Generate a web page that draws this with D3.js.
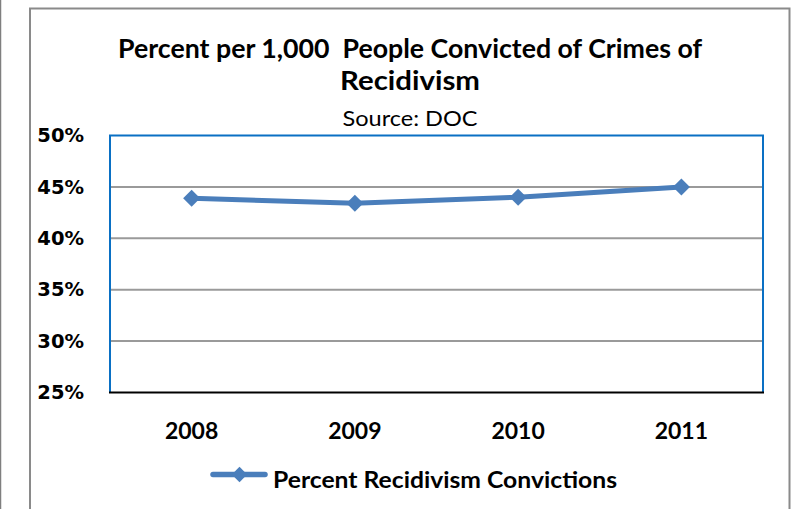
<!DOCTYPE html>
<html>
<head>
<meta charset="utf-8">
<script src="https://cdn.jsdelivr.net/npm/d3@7/dist/d3.min.js"></script>
<style>
  html, body { margin: 0; padding: 0; background: #ffffff; }
  svg { display: block; }
</style>
</head>
<body>
<svg id="chart" width="806" height="509"></svg>
<script>
// Recidivism conviction rate by year (Source: DOC)
const years = ["2008", "2009", "2010", "2011"];
const recidivismRates = [0.439, 0.434, 0.440, 0.450];
const yTickValues = [0.25, 0.30, 0.35, 0.40, 0.45, 0.50];
const titleLines = ["Percent per 1,000  People Convicted of Crimes of", "Recidivism"];
const subtitle = "Source: DOC";
const seriesName = "Percent Recidivism Convictions";

const svg = d3.select("#chart");
const W = 806, H = 509;
const plot = { left: 110, right: 763, top: 135.5, bottom: 392.5 };
const lineColor = "#4A7EBB";
const calibriLike = "Lato, 'Open Sans', sans-serif";

svg.append("rect").attr("width", W).attr("height", H).attr("fill", "#fff");

// Outer page edge and chart frame
svg.append("line").attr("x1", 0.5).attr("x2", 0.5).attr("y1", 0).attr("y2", H)
  .attr("stroke", "#7f7f7f").attr("stroke-width", 1.5);
svg.append("path")
  .attr("d", `M30,${H + 2} L30,8.5 L789.5,8.5 L789.5,${H + 2}`)
  .attr("fill", "none").attr("stroke", "#8a8a8a").attr("stroke-width", 2);

// Titles
const titleX = 410;
svg.append("text").attr("x", titleX).attr("y", 58)
  .attr("text-anchor", "middle").attr("font-family", calibriLike)
  .attr("font-weight", 700).attr("font-size", 26).attr("fill", "#000")
  .attr("textLength", 584).attr("lengthAdjust", "spacingAndGlyphs")
  .style("white-space", "pre")
  .text(titleLines[0]);
svg.append("text").attr("x", titleX).attr("y", 90)
  .attr("text-anchor", "middle").attr("font-family", calibriLike)
  .attr("font-weight", 700).attr("font-size", 26).attr("fill", "#000")
  .attr("textLength", 140).attr("lengthAdjust", "spacingAndGlyphs")
  .text(titleLines[1]);
svg.append("text").attr("x", titleX).attr("y", 126)
  .attr("text-anchor", "middle").attr("font-family", calibriLike)
  .attr("font-weight", 400).attr("font-size", 22).attr("fill", "#000")
  .attr("textLength", 135).attr("lengthAdjust", "spacingAndGlyphs")
  .text(subtitle);

// Scales
const x = d3.scaleBand().domain(years).range([plot.left, plot.right]);
const y = d3.scaleLinear().domain([0.25, 0.50]).range([plot.bottom, plot.top]);
const cx = d => x(d) + x.bandwidth() / 2;

// Horizontal gridlines
svg.append("g")
  .selectAll("line")
  .data(yTickValues.filter(v => v > 0.25 && v < 0.50))
  .join("line")
  .attr("x1", plot.left).attr("x2", plot.right)
  .attr("y1", d => y(d)).attr("y2", d => y(d))
  .attr("stroke", "#9a9a9a").attr("stroke-width", 2);

// Plot area border (blue) with black category axis along the bottom
svg.append("path")
  .attr("d", `M${plot.left},${plot.bottom} L${plot.left},${plot.top} L${plot.right},${plot.top} L${plot.right},${plot.bottom}`)
  .attr("fill", "none").attr("stroke", "#0a70c4").attr("stroke-width", 2);
svg.append("line")
  .attr("x1", plot.left - 1).attr("x2", plot.right + 1)
  .attr("y1", plot.bottom).attr("y2", plot.bottom)
  .attr("stroke", "#000").attr("stroke-width", 2);

// Y axis labels
const yAxis = d3.axisLeft(y).tickValues(yTickValues).tickFormat(d3.format(".0%")).tickSize(0).tickPadding(0);
const yG = svg.append("g").attr("transform", `translate(84,0)`).call(yAxis);
yG.select(".domain").remove();
yG.selectAll("text")
  .attr("font-family", "'DejaVu Sans', sans-serif")
  .attr("font-weight", 700).attr("font-size", 19.5).attr("fill", "#000");

// X axis labels
const xAxis = d3.axisBottom(x).tickSize(0).tickPadding(0);
const xG = svg.append("g").call(xAxis);
xG.select(".domain").remove();
xG.selectAll("text")
  .attr("y", 438.5).attr("dy", null)
  .attr("font-family", calibriLike)
  .attr("font-weight", 700).attr("font-size", 23).attr("fill", "#000");

// Series line
const line = d3.line().x((d, i) => cx(years[i])).y(d => y(d));
svg.append("path")
  .datum(recidivismRates)
  .attr("d", line)
  .attr("fill", "none").attr("stroke", lineColor)
  .attr("stroke-width", 5).attr("stroke-linejoin", "round");

// Diamond markers
const diamond = d3.symbol().type(d3.symbolSquare).size(144);
svg.append("g")
  .selectAll("path")
  .data(recidivismRates)
  .join("path")
  .attr("d", diamond)
  .attr("transform", (d, i) => `translate(${cx(years[i])},${y(d)}) rotate(45)`)
  .attr("fill", lineColor);

// Legend
const legendY = 474.5;
svg.append("line")
  .attr("x1", 213).attr("x2", 265)
  .attr("y1", legendY).attr("y2", legendY)
  .attr("stroke", lineColor).attr("stroke-width", 5.5).attr("stroke-linecap", "round");
svg.append("path")
  .attr("d", d3.symbol().type(d3.symbolSquare).size(118)())
  .attr("transform", `translate(239.5,${legendY}) rotate(45)`)
  .attr("fill", lineColor);
svg.append("text")
  .attr("x", 273).attr("y", 488)
  .attr("font-family", calibriLike)
  .attr("font-weight", 700).attr("font-size", 23.5).attr("fill", "#000")
  .attr("textLength", 344).attr("lengthAdjust", "spacingAndGlyphs")
  .text(seriesName);
</script>
</body>
</html>
